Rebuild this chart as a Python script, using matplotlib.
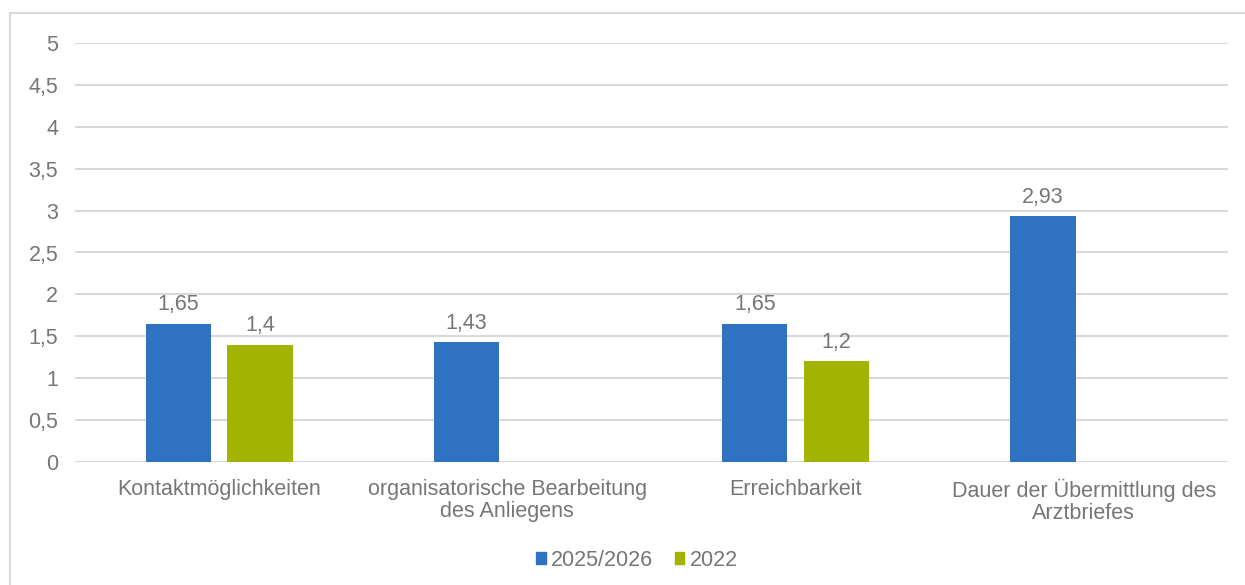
import numpy as np
import matplotlib.pyplot as plt
from matplotlib.patches import Rectangle

plt.rcParams['font.family'] = ['Liberation Sans', 'DejaVu Sans']

categories = ["Kontaktmöglichkeiten",
              "organisatorische Bearbeitung\ndes Anliegens",
              "Erreichbarkeit",
              "Dauer der Übermittlung des\nArztbriefes"]
werte_2025 = [1.65, 1.43, 1.65, 2.93]
werte_2022 = [1.4, None, 1.2, None]
yticks = [0, 0.5, 1, 1.5, 2, 2.5, 3, 3.5, 4, 4.5, 5]

blau = "#3072C2"
gruen = "#A2B400"
grau = "#767676"
fs = 15.5

fig = plt.figure(figsize=(12.45, 5.85), dpi=100)
ax = fig.add_axes([75/1245, 123/585, 1153/1245, 419/585])

x = np.arange(len(categories))
w = 0.226
off = 0.142

def fmt(v):
    return f"{v:g}".replace(".", ",")

for i, v in enumerate(werte_2025):
    ax.bar(x[i] - off, v, w, color=blau, zorder=3)
    ax.text(x[i] - off, v + 0.1, fmt(v), ha="center", va="bottom",
            fontsize=fs, color=grau)
for i, v in enumerate(werte_2022):
    if v is None:
        continue
    ax.bar(x[i] + off, v, w, color=gruen, zorder=3)
    ax.text(x[i] + off, v + 0.1, fmt(v), ha="center", va="bottom",
            fontsize=fs, color=grau)

ax.set_xlim(-0.5, len(categories) - 0.5)
ax.set_ylim(0, 5)
ax.set_yticks(yticks)
ax.set_yticklabels([fmt(t) for t in yticks], fontsize=fs, color=grau)
ax.set_xticks(x)
ax.set_xticklabels(categories, fontsize=fs, color=grau, linespacing=1.1)
ax.tick_params(axis="both", length=0)
ax.tick_params(axis="y", pad=12)
ax.tick_params(axis="x", pad=12)
ax.grid(axis="y", color="#d9d9d9", linewidth=1.5, zorder=0)
for s in ax.spines.values():
    s.set_visible(False)

# legend
handles = [Rectangle((0, 0), 1, 1, color=blau), Rectangle((0, 0), 1, 1, color=gruen)]
fig.legend(handles, ["2025/2026", "2022"], loc="center", bbox_to_anchor=(637/1245, 1 - 560/585),
           ncol=2, frameon=False, fontsize=fs, labelcolor=grau,
           handlelength=0.45, handleheight=0.45, handletextpad=0.25, columnspacing=1.0)

# chart border
fig.patches.append(Rectangle((10/1245, -0.1), 1.1, 1 - 13/585 + 0.1,
                             transform=fig.transFigure, fill=False,
                             edgecolor="#d9d9d9", linewidth=1.5))

fig.savefig("out.png", dpi=100)
